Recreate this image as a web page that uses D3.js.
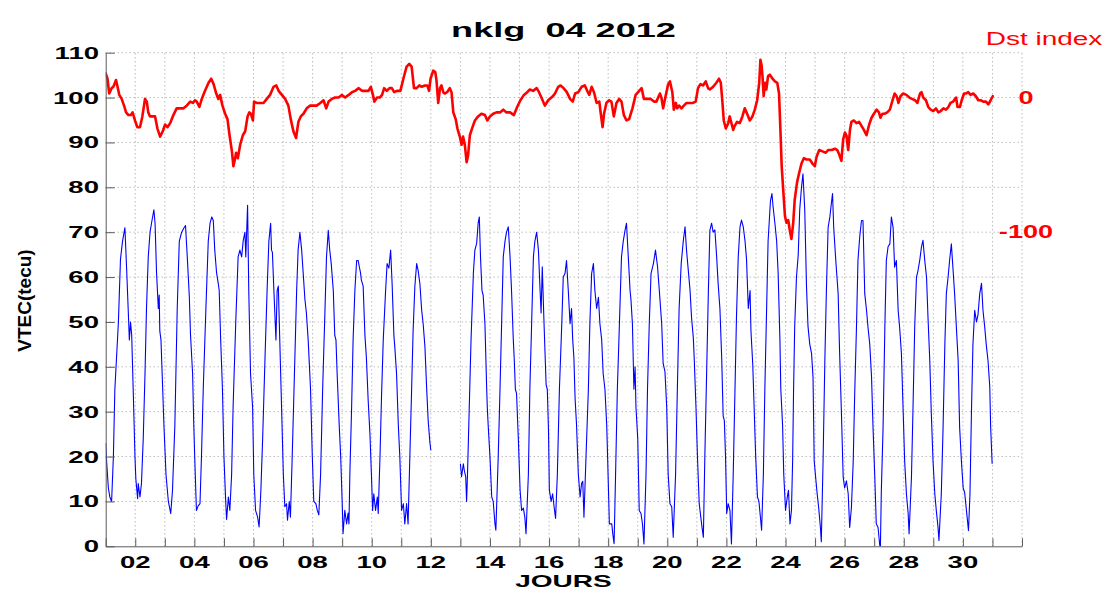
<!DOCTYPE html>
<html lang="fr">
<head>
<meta charset="UTF-8">
<title>nklg 04 2012</title>
<script src="https://cdn.jsdelivr.net/npm/d3@7"></script>
<style>
  body { margin: 0; background: #fff; }
  svg { display: block; font-family: "Liberation Sans", Arial, sans-serif; }
  .grid line { stroke: #9c9c9c; stroke-width: 1; stroke-dasharray: 1,3; }
</style>
</head>
<body>
<svg id="chart" width="1105" height="590"></svg>
<script>
// VTEC (tecu), [jour, valeur] -- jours 1 a 12 puis trou jusqu'au 13
const vtecBefore = [[1.00,23],[1.03,19],[1.09,13],[1.14,11],[1.20,10],[1.26,20],[1.31,35],[1.43,50],[1.50,64],[1.57,68],[1.65,71],[1.71,61.5],[1.76,53],[1.80,46],[1.84,50],[1.88,47],[1.93,35],[1.99,20],[2.02,15],[2.08,10.6],[2.10,14],[2.16,11],[2.21,14],[2.27,24],[2.33,38.5],[2.38,53],[2.44,64.5],[2.50,70],[2.55,72],[2.63,75],[2.67,72],[2.72,61],[2.78,53],[2.81,56],[2.83,48],[2.87,46],[2.91,38.5],[2.97,27],[3.04,16],[3.12,10],[3.20,7.3],[3.26,12.5],[3.34,27],[3.42,53],[3.49,68],[3.57,70],[3.65,71],[3.70,71.5],[3.76,64.5],[3.83,55.5],[3.87,47],[3.94,38.5],[3.98,27],[4.03,16],[4.07,8],[4.13,9],[4.19,9.5],[4.24,20],[4.30,35],[4.39,53],[4.47,68],[4.53,72],[4.59,73.4],[4.64,72.6],[4.69,66],[4.75,61],[4.81,58.5],[4.84,57],[4.89,46],[4.95,35],[5.00,20],[5.06,10],[5.09,6],[5.15,11],[5.20,8],[5.26,16],[5.31,31],[5.40,50],[5.48,64.5],[5.54,66],[5.60,64.5],[5.65,68],[5.71,70],[5.74,64.5],[5.80,76],[5.84,57],[5.90,38.5],[5.97,31],[6.01,16],[6.07,8],[6.14,6.5],[6.19,4.3],[6.25,12.5],[6.31,24],[6.39,42],[6.46,57],[6.52,68],[6.58,72],[6.61,66],[6.64,65.5],[6.69,57],[6.76,46],[6.80,57],[6.84,58],[6.95,31],[7.01,16],[7.06,8.8],[7.12,9.5],[7.15,5.8],[7.21,10],[7.25,6.5],[7.31,20],[7.40,42],[7.46,57],[7.51,66],[7.57,70],[7.63,66],[7.68,61],[7.74,55],[7.79,52],[7.85,46],[7.93,35],[7.99,20],[8.04,10],[8.11,9.5],[8.16,8],[8.21,7],[8.27,16],[8.34,35],[8.42,53],[8.47,64.5],[8.53,70.4],[8.58,66],[8.63,63],[8.70,57],[8.75,47],[8.79,46],[8.83,38.5],[8.90,27],[8.95,20],[9.00,10],[9.03,2.8],[9.09,8],[9.15,5],[9.20,7.4],[9.23,5],[9.26,16],[9.32,31],[9.37,46],[9.43,57],[9.49,63.7],[9.54,63.7],[9.58,62.3],[9.62,61],[9.65,59.3],[9.71,58],[9.77,47],[9.82,42],[9.88,32.5],[9.94,25],[9.99,16],[10.03,8],[10.07,11.7],[10.13,8],[10.19,11],[10.22,7.3],[10.28,20],[10.33,33],[10.39,46],[10.47,57],[10.52,63],[10.58,62],[10.64,66],[10.69,58.5],[10.75,47],[10.78,44.5],[10.84,38.5],[10.90,27],[10.95,20],[11.01,8],[11.07,9.5],[11.12,5],[11.18,9.5],[11.23,5],[11.29,20],[11.35,35],[11.40,48],[11.46,58],[11.52,63],[11.57,61.5],[11.63,58.5],[11.69,52.6],[11.74,49.6],[11.80,44.5],[11.86,35],[11.91,28],[11.97,23],[12.00,21.4]];

const vtecAfter = [[13.00,18.4],[13.04,15.5],[13.10,18.4],[13.13,17],[13.18,15.5],[13.21,10],[13.24,16],[13.30,31],[13.36,46],[13.44,61],[13.49,66],[13.55,67.5],[13.60,72],[13.64,73.4],[13.68,64.5],[13.73,57],[13.77,56],[13.83,49.6],[13.89,35],[13.91,31],[13.94,27],[14.00,20],[14.06,11],[14.11,10],[14.17,5],[14.20,3.6],[14.28,20],[14.34,35],[14.40,51],[14.45,64.5],[14.51,68],[14.56,70],[14.62,71.2],[14.68,64.5],[14.73,57],[14.79,46],[14.82,42],[14.86,35],[14.90,34],[14.96,24],[15.02,12.5],[15.07,8],[15.13,8.5],[15.18,6.5],[15.22,2.8],[15.30,16],[15.35,35],[15.41,49.6],[15.47,64.5],[15.52,68],[15.58,70],[15.64,66],[15.69,58],[15.73,52],[15.77,62.3],[15.83,49.6],[15.90,36],[15.94,35],[15.98,26],[16.01,12.5],[16.07,10],[16.12,11.7],[16.17,8.8],[16.22,6.2],[16.28,16],[16.35,35],[16.43,49.6],[16.48,60],[16.54,60.8],[16.59,63.7],[16.65,57],[16.71,49.6],[16.76,53],[16.80,46],[16.84,42],[16.88,33],[16.93,27],[16.99,16],[17.05,11],[17.10,14],[17.14,14.5],[17.18,6.5],[17.25,20],[17.33,35],[17.38,49.6],[17.44,60.8],[17.50,63],[17.55,57],[17.61,53],[17.67,55.5],[17.72,49.6],[17.78,46],[17.83,38.5],[17.89,35],[17.95,27],[17.98,20],[18.04,5],[18.12,5],[18.17,2],[18.20,0.6],[18.25,16],[18.31,35],[18.38,49.6],[18.45,64.5],[18.51,68],[18.57,70.4],[18.62,72],[18.68,64.5],[18.74,57],[18.77,55],[18.82,49.6],[18.87,35],[18.91,40],[18.94,31],[19.00,24],[19.05,8],[19.11,7.3],[19.16,5],[19.21,0.5],[19.28,16],[19.33,35],[19.39,49.6],[19.45,60.8],[19.53,63],[19.60,66],[19.67,62.3],[19.73,57],[19.81,49.6],[19.86,40.7],[19.92,39],[19.98,31],[20.03,16],[20.09,9.5],[20.15,8.8],[20.20,2],[20.28,16],[20.34,35],[20.40,53],[20.47,63],[20.54,68],[20.60,71.2],[20.65,66],[20.71,61.5],[20.77,57],[20.82,51],[20.88,46.5],[20.91,42],[20.97,31],[21.02,20],[21.08,9.5],[21.16,5],[21.22,2],[21.27,20],[21.33,38.5],[21.39,57],[21.44,70.4],[21.50,72],[21.55,70],[21.61,70.5],[21.67,64.5],[21.72,58.5],[21.78,53],[21.84,42],[21.89,29],[21.93,28],[21.97,20],[22.01,7.3],[22.06,9.5],[22.12,8],[22.17,0.5],[22.23,16],[22.29,35],[22.34,51],[22.40,64.5],[22.46,71.2],[22.51,72.7],[22.57,71.2],[22.63,68],[22.68,64],[22.74,53],[22.80,57],[22.83,48],[22.89,40.7],[22.93,32.5],[22.99,20],[23.05,11],[23.10,10],[23.16,5.8],[23.19,3.6],[23.25,16],[23.30,35],[23.36,53],[23.41,68],[23.49,77],[23.54,78.6],[23.58,75.6],[23.64,72],[23.70,68],[23.75,60.8],[23.81,46],[23.84,35],[23.90,27],[23.94,16],[24.00,8],[24.06,11],[24.10,12.5],[24.15,5],[24.20,8],[24.24,19],[24.27,34],[24.31,49],[24.37,60],[24.43,65],[24.48,75],[24.54,80],[24.59,83],[24.65,75],[24.71,57.8],[24.76,49],[24.82,45],[24.88,43],[24.93,37.7],[24.97,19],[25.01,16],[25.07,11.7],[25.12,8.7],[25.18,4.2],[25.21,1],[25.27,19],[25.33,41.4],[25.38,56.3],[25.44,71],[25.50,73.4],[25.55,76.4],[25.59,78.6],[25.63,71],[25.70,63.7],[25.78,56.3],[25.83,43],[25.89,30],[25.95,15.4],[26.00,13],[26.06,14.6],[26.12,11.7],[26.17,4.2],[26.23,8.7],[26.29,19],[26.34,34],[26.40,48.8],[26.45,63.7],[26.51,69],[26.57,72.6],[26.62,72.6],[26.68,56.3],[26.74,52.6],[26.79,48.8],[26.85,45],[26.91,37.7],[26.96,26.5],[27.02,15.4],[27.07,5],[27.13,4.2],[27.19,0],[27.21,0],[27.24,12],[27.30,26.5],[27.36,48.8],[27.41,63.7],[27.47,66.8],[27.53,67.4],[27.58,73.4],[27.64,71],[27.69,62.2],[27.75,63.7],[27.81,52.6],[27.86,48.8],[27.92,43],[27.98,30],[28.03,19],[28.09,11.7],[28.15,7.2],[28.18,2.8],[28.26,15.4],[28.31,30],[28.37,48.8],[28.43,60],[28.48,61.4],[28.54,63.7],[28.60,66.8],[28.65,68.2],[28.71,63.7],[28.77,60],[28.82,51],[28.88,41.4],[28.93,30],[28.99,19],[29.05,11.7],[29.10,8],[29.16,4.2],[29.19,1.3],[29.27,11.7],[29.33,26.5],[29.39,45],[29.44,56.3],[29.50,60],[29.55,63.7],[29.61,67.4],[29.67,61.4],[29.72,56.3],[29.78,48.8],[29.84,41.4],[29.89,26.5],[29.95,19],[30.01,13],[30.06,12],[30.12,8],[30.19,3.5],[30.24,11.7],[30.29,30],[30.34,45],[30.40,52.6],[30.46,50],[30.51,51.5],[30.57,56.3],[30.63,58.6],[30.68,52.6],[30.74,48.8],[30.79,45],[30.85,41.4],[30.91,35.5],[30.94,26.5],[30.99,18.4]];

// indice Dst (nT), [jour, valeur]
const dstIndex = [[1.00,18],[1.06,14],[1.12,3],[1.20,7],[1.26,8],[1.35,13],[1.40,8],[1.46,2],[1.54,-1],[1.62,-6],[1.69,-11],[1.77,-13],[1.85,-13],[1.91,-11],[1.99,-17],[2.07,-22],[2.16,-22],[2.24,-14],[2.33,-1],[2.39,-3],[2.44,-11],[2.50,-14],[2.59,-14],[2.67,-14],[2.75,-23],[2.84,-29],[2.93,-25],[3.01,-20],[3.09,-22],[3.18,-19],[3.29,-13],[3.40,-8],[3.52,-8],[3.63,-8],[3.74,-6],[3.86,-3],[3.95,-4],[4.02,-2],[4.08,-3],[4.17,-7],[4.25,-1],[4.36,5],[4.48,11],[4.57,14],[4.65,10],[4.74,3],[4.81,-1],[4.87,2],[4.95,-6],[5.04,-12],[5.12,-16],[5.19,-28],[5.27,-40],[5.32,-51],[5.38,-45],[5.41,-41],[5.47,-45],[5.55,-35],[5.64,-28],[5.72,-25],[5.80,-14],[5.86,-11],[5.91,-12],[5.98,-17],[6.02,-3],[6.11,-4],[6.23,-4],[6.34,-4],[6.45,-1],[6.56,2],[6.68,8],[6.77,9],[6.85,5],[6.96,2],[7.07,-1],[7.18,-6],[7.26,-16],[7.35,-25],[7.44,-30],[7.52,-18],[7.60,-14],[7.69,-12],[7.80,-8],[7.91,-6],[8.03,-6],[8.14,-6],[8.26,-4],[8.37,-2],[8.46,-8],[8.54,-3],[8.65,-1],[8.76,0],[8.88,0],[8.99,2],[9.10,0],[9.22,2],[9.33,4],[9.44,5],[9.56,7],[9.67,5],[9.78,5],[9.89,5],[9.97,8],[10.04,2],[10.09,-3],[10.18,0],[10.27,0],[10.35,2],[10.42,7],[10.51,5],[10.60,7],[10.68,7],[10.76,4],[10.85,5],[10.97,5],[11.07,14],[11.18,23],[11.27,25],[11.35,23],[11.43,7],[11.52,7],[11.61,9],[11.69,8],[11.80,9],[11.88,9],[11.94,5],[11.99,14],[12.08,20],[12.15,19],[12.19,13],[12.25,-4],[12.31,7],[12.36,9],[12.42,4],[12.47,3],[12.55,4],[12.64,7],[12.70,4],[12.76,-11],[12.84,-16],[12.90,-23],[12.98,-29],[13.04,-35],[13.09,-29],[13.15,-35],[13.21,-48],[13.26,-43],[13.32,-28],[13.41,-22],[13.49,-17],[13.60,-14],[13.71,-12],[13.83,-13],[13.91,-17],[14.00,-14],[14.11,-12],[14.22,-11],[14.34,-11],[14.45,-9],[14.56,-11],[14.68,-11],[14.81,-13],[14.92,-7],[15.03,-2],[15.15,2],[15.26,4],[15.35,6],[15.46,5],[15.58,7],[15.66,4],[15.74,0],[15.86,-6],[15.97,-2],[16.08,0],[16.20,3],[16.31,8],[16.39,9],[16.49,7],[16.60,4],[16.71,-1],[16.80,-3],[16.88,3],[16.99,4],[17.10,8],[17.21,9],[17.29,5],[17.36,2],[17.44,8],[17.52,4],[17.61,-4],[17.70,-3],[17.75,-12],[17.81,-22],[17.86,-12],[17.94,-4],[18.03,-2],[18.11,-3],[18.19,-14],[18.28,-4],[18.37,-1],[18.45,-3],[18.53,-13],[18.62,-17],[18.71,-16],[18.82,-8],[18.93,2],[19.05,5],[19.13,7],[19.21,-1],[19.32,-1],[19.44,-1],[19.55,-3],[19.63,-3],[19.75,3],[19.80,0],[19.86,-8],[19.95,2],[20.03,10],[20.09,12],[20.17,4],[20.22,-9],[20.29,-4],[20.33,-8],[20.40,-6],[20.48,-8],[20.56,-6],[20.65,-4],[20.76,-4],[20.87,-4],[20.96,-3],[21.04,7],[21.12,10],[21.21,9],[21.30,12],[21.38,7],[21.44,6],[21.55,8],[21.66,11],[21.75,14],[21.81,11],[21.86,-2],[21.91,-17],[21.98,-23],[22.06,-19],[22.11,-14],[22.17,-19],[22.23,-24],[22.28,-21],[22.36,-18],[22.45,-19],[22.54,-14],[22.62,-8],[22.70,-12],[22.79,-17],[22.88,-14],[22.96,-9],[23.04,-2],[23.11,11],[23.15,28],[23.19,24],[23.22,16],[23.26,1],[23.31,11],[23.35,6],[23.41,16],[23.47,17],[23.56,14],[23.64,12],[23.72,11],[23.78,3],[23.83,-26],[23.87,-51],[23.92,-68],[23.98,-88],[24.03,-93],[24.09,-91],[24.14,-98],[24.20,-105],[24.26,-93],[24.31,-76],[24.39,-63],[24.46,-56],[24.54,-49],[24.62,-45],[24.71,-46],[24.82,-46],[24.91,-49],[24.99,-51],[25.05,-44],[25.14,-39],[25.25,-40],[25.36,-41],[25.44,-39],[25.56,-39],[25.67,-38],[25.75,-39],[25.81,-42],[25.89,-47],[25.95,-31],[26.01,-26],[26.06,-28],[26.12,-39],[26.18,-24],[26.23,-18],[26.31,-17],[26.40,-19],[26.49,-18],[26.57,-21],[26.65,-24],[26.74,-28],[26.83,-20],[26.91,-15],[26.99,-12],[27.08,-9],[27.16,-11],[27.21,-15],[27.28,-12],[27.36,-12],[27.44,-11],[27.53,-9],[27.62,-2],[27.69,3],[27.76,1],[27.82,-4],[27.89,1],[27.98,3],[28.09,2],[28.19,0],[28.28,-1],[28.38,-2],[28.46,-4],[28.55,3],[28.60,4],[28.66,0],[28.75,-2],[28.83,-7],[28.91,-9],[29.00,-10],[29.09,-8],[29.17,-11],[29.25,-10],[29.34,-8],[29.43,-9],[29.51,-7],[29.58,-4],[29.67,-3],[29.77,0],[29.82,-7],[29.90,-7],[29.96,-2],[30.04,3],[30.10,3],[30.18,4],[30.26,2],[30.35,3],[30.44,1],[30.52,-2],[30.60,-2],[30.69,-3],[30.78,-3],[30.86,-5],[30.94,-2],[31.01,1]];

const dayTicks = [1,2,3,4,5,6,7,8,9,10,11,12,13,14,15,16,17,18,19,20,21,22,23,24,25,26,27,28,29,30,31,32];
const dayLabels = ["02","04","06","08","10","12","14","16","18","20","22","24","26","28","30"];
const vtecTicks = [0,10,20,30,40,50,60,70,80,90,100,110];
const dstTicks = [0,-100];

const svg = d3.select("#chart");

// les textes de la figure d'origine sont etires horizontalement
function wideText(parent, x, y, str, size, weight, sx, anchor, color) {
  return parent.append("text")
    .attr("transform", `translate(${x},${y}) scale(${sx},1)`)
    .attr("text-anchor", anchor)
    .attr("font-size", size)
    .attr("font-weight", weight)
    .attr("fill", color)
    .style("white-space", "pre")
    .text(str);
}

var x = d3.scaleLinear().domain([1, 32]).range([105.7, 1022]);
var y = d3.scaleLinear().domain([0, 110]).range([546.3, 52.7]);
// Dst sur le meme axe : 0 nT -> 100, -100 nT -> 70
var yDst = d3.scaleLinear().domain([-100, 0]).range([y(70), y(100)]);

svg.append("defs").append("clipPath").attr("id", "plotclip")
  .append("rect")
  .attr("x", x(1)).attr("y", y(110))
  .attr("width", x(32) - x(1)).attr("height", y(0) - y(110));

// grille pointillee
var grid = svg.append("g").attr("class", "grid");
grid.selectAll(".h").data(vtecTicks.filter(v => v > 0)).enter().append("line")
  .attr("x1", x(1)).attr("x2", x(32))
  .attr("y1", d => y(d)).attr("y2", d => y(d));
grid.selectAll(".v").data(dayTicks.filter(d => d > 1)).enter().append("line")
  .attr("x1", d => x(d)).attr("x2", d => x(d))
  .attr("y1", y(0)).attr("y2", y(110));

var plot = svg.append("g").attr("clip-path", "url(#plotclip)");

var lineV = d3.line().x(d => x(d[0])).y(d => y(d[1]));
[vtecBefore, vtecAfter].forEach(seg => {
  plot.append("path")
    .datum(seg)
    .attr("d", lineV)
    .attr("fill", "none")
    .attr("stroke", "#0000ff")
    .attr("stroke-width", 1.1)
    .attr("stroke-linejoin", "round");
});

var lineD = d3.line().x(d => x(d[0])).y(d => yDst(d[1]));
plot.append("path")
  .datum(dstIndex)
  .attr("d", lineD)
  .attr("fill", "none")
  .attr("stroke", "#ff0000")
  .attr("stroke-width", 2.6)
  .attr("stroke-linejoin", "round")
  .attr("stroke-linecap", "round");

// axes (traits seulement, graduations vers l'interieur)
svg.append("g")
  .attr("transform", `translate(${x(1)},0)`)
  .attr("color", "#5a5a5a")
  .call(d3.axisLeft(y).tickValues(vtecTicks).tickSizeInner(-9).tickSizeOuter(0).tickFormat(""));
svg.append("g")
  .attr("transform", `translate(0,${y(0)})`)
  .attr("color", "#5a5a5a")
  .call(d3.axisBottom(x).tickValues(dayTicks).tickSizeInner(-8).tickSizeOuter(0).tickFormat(""));

// etiquettes
vtecTicks.forEach(v => wideText(svg, 99, y(v) + 6, String(v), 17, "bold", 1.62, "end", "#000"));
dayLabels.forEach(l => wideText(svg, x(+l), 568, l, 17, "bold", 1.62, "middle", "#000"));
dstTicks.forEach(v => wideText(svg, 1026, yDst(v) + 6.3, String(v), 17.5, "bold", 1.55, "middle", "#ff0000"));

wideText(svg, 563.5, 37, "nklg  04 2012", 21, "bold", 1.72, "middle", "#000");
wideText(svg, 563.5, 587, "JOURS", 17, "bold", 1.65, "middle", "#000");
wideText(svg, 1044, 45, "Dst index", 17.5, "normal", 1.6, "middle", "#ff0000");

svg.append("text")
  .attr("transform", "translate(31,300.5) rotate(-90)")
  .attr("text-anchor", "middle")
  .attr("font-size", 19)
  .attr("font-weight", "bold")
  .attr("fill", "#000")
  .text("VTEC(tecu)");
</script>
</body>
</html>
